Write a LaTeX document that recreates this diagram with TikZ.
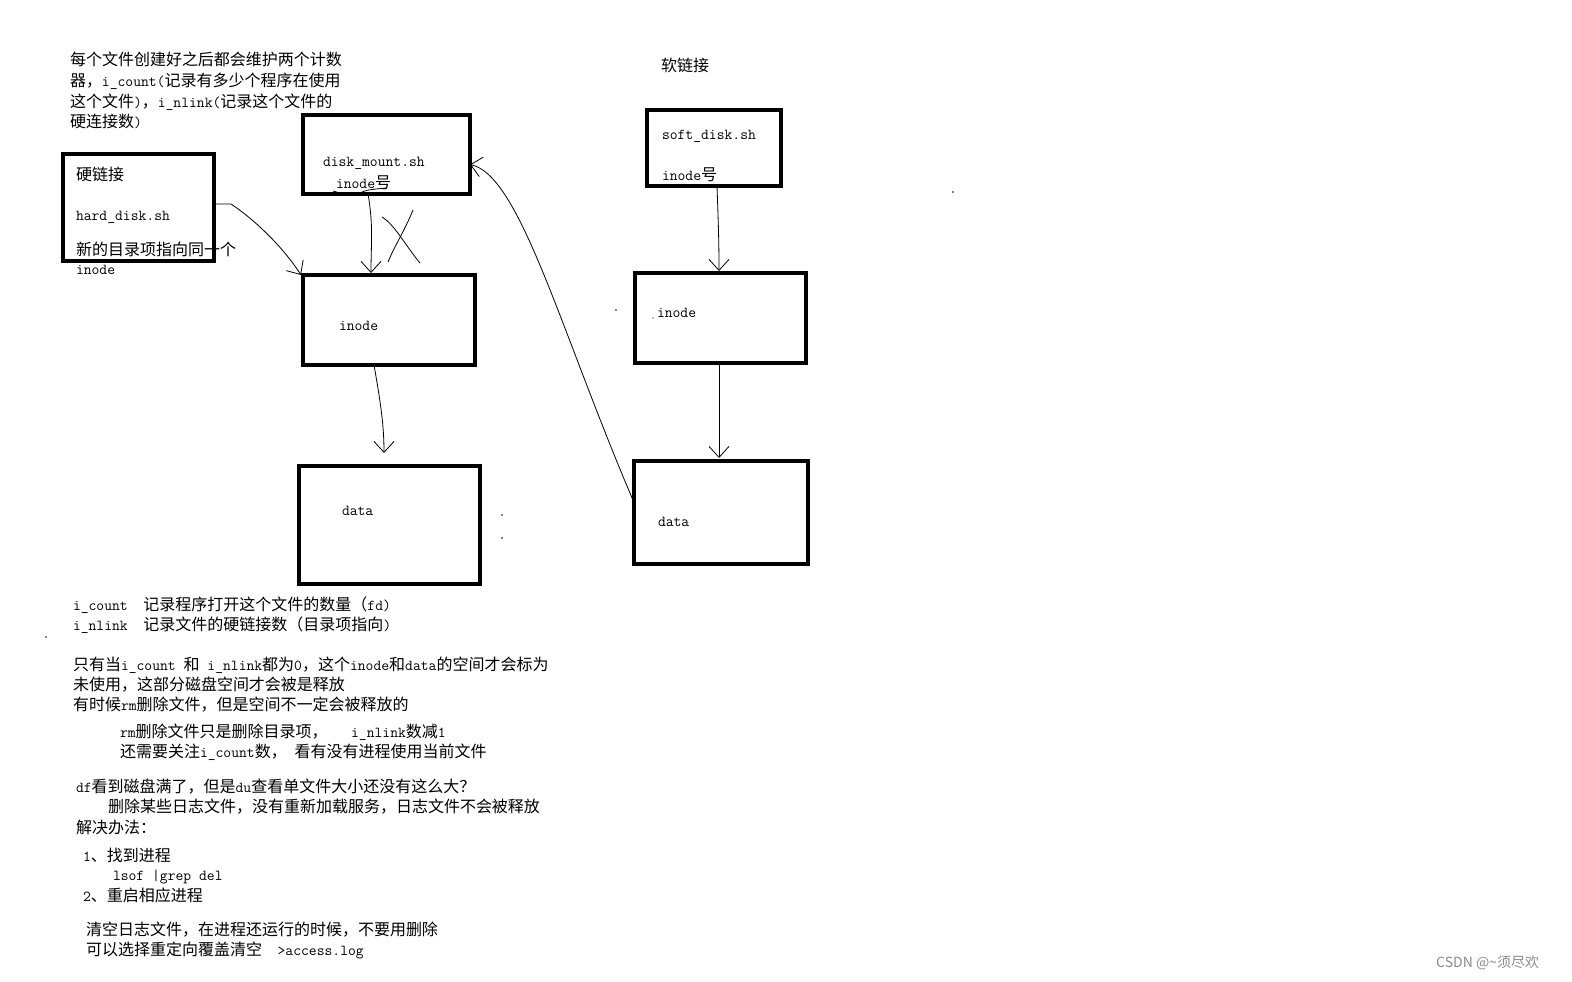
\documentclass[tikz,border=0pt]{standalone}
\usepackage{fontspec}
\setmainfont{Noto Sans CJK SC}
\newcommand{\mnx}[1]{{\ttfamily\fontsize{15.2}{20}\selectfont #1}}
\usetikzlibrary{arrows.meta}
\begin{document}
\begin{tikzpicture}[x=1pt,y=-1pt,
  boxn/.style={draw, line width=4pt, inner sep=0pt, outer sep=0pt},
  txt/.style={anchor=base west, inner sep=0pt, outer sep=0pt, font=\fontsize{16}{20}\selectfont},
  hand/.style={line width=0.8pt},
  harrow/.style={hand, -{Straight Barb[length=11pt,width=20pt]}},
  dotx/.style={fill=black}]
\path[use as bounding box, fill=white] (0,0) rectangle (1572,982);

% ---------- top-left note ----------
\node[txt] (n1) at (70,66) {每个文件创建好之后都会维护两个计数};
\node[txt] (n2) at (70,87) {器，\mnx{i\_count(}记录有多少个程序在使用};
\node[txt] (n3) at (70,107) {这个文件\mnx{)}，\mnx{i\_nlink(}记录这个文件的};
\node[txt] (n4) at (70,127) {硬连接数\mnx{)}};

% ---------- texts inside boxes ----------
\node[txt] (h1) at (76,180) {硬链接};
\node[txt] (h2) at (76,220) {\mnx{hard\_disk.sh}};
\node[txt] (h3) at (76,255) {新的目录项指向同一个};
\node[txt] (h4) at (76,274) {\mnx{inode}};

\node[txt] (d1) at (323,166) {\mnx{disk\_mount.sh}};
\node[txt] (d2) at (336,188) {\mnx{inode}号};
\node[txt] (i1) at (339,330) {\mnx{inode}};
\node[txt] (a1) at (342,515) {\mnx{data}};

\node[txt] (s0) at (661,72) {软链接};
\node[txt] (s1) at (662,139) {\mnx{soft\_disk.sh}};
\node[txt] (s2) at (662,180) {\mnx{inode}号};
\node[txt] (s3) at (657,317) {\mnx{inode}};
\node[txt] (s4) at (658,526) {\mnx{data}};

% ---------- boxes ----------
\node[boxn, minimum width=151pt, minimum height=107pt] (hard) at (138.5,207.5) {};
\node[boxn, minimum width=167pt, minimum height=79pt] (diskmount) at (386.5,154.5) {};
\node[boxn, minimum width=172pt, minimum height=90pt] (inodeL) at (389,320) {};
\node[boxn, minimum width=181pt, minimum height=118pt] (dataL) at (389.5,525) {};
\node[boxn, minimum width=134pt, minimum height=76pt] (soft) at (714,148) {};
\node[boxn, minimum width=171pt, minimum height=90pt] (inodeR) at (720.5,318) {};
\node[boxn, minimum width=174pt, minimum height=103pt] (dataR) at (721,512.5) {};

% ---------- connectors ----------
\draw[harrow] ([yshift=3.5pt]hard.east) -- ++(17,0)
  .. controls (258,222) and (285,250) .. ([xshift=-2pt]inodeL.north west);
\draw[harrow, shorten >=2pt] ([xshift=-18.5pt]diskmount.south)
  to[out=-80,in=90] ([xshift=-18pt]inodeL.north);
\draw[harrow, shorten >=13pt] ([xshift=-15pt]inodeL.south)
  to[out=-80,in=90] ([xshift=-5.5pt]dataL.north);
\draw[harrow] ([yshift=10pt]dataR.west)
  .. controls (560,330) and (520,175) .. ([yshift=-10pt]diskmount.east);
\draw[harrow, shorten >=2pt] ([xshift=3pt]soft.south)
  to[out=-88,in=90] ([xshift=-1.5pt]inodeR.north);
\draw[harrow, shorten >=3pt] ([xshift=-1.5pt]inodeR.south)
  -- ([xshift=-2pt]dataR.north);

% crossed-out stroke
\draw[hand] (382,217) .. controls (395,225) and (405,245) .. (420,263);
\draw[hand] (413,210) .. controls (405,230) and (395,245) .. (388,262);
\draw[hand] (333,191) -- (340,193);
\draw[hand] (358,194) .. controls (366,190) .. (386,188);

% stray dots
\fill[dotx] (953,192) circle (0.8pt);
\fill[dotx] (616,310) circle (0.8pt);
\fill[dotx] (653,318) circle (0.6pt);
\fill[dotx] (502,515) circle (0.8pt);
\fill[dotx] (502,538) circle (0.8pt);
\fill[dotx] (46,637) circle (0.8pt);

% ---------- bottom notes ----------
\node[txt] (b1) at (73,610) {\mnx{i\_count\ \ }记录程序打开这个文件的数量（\mnx{fd)}};
\node[txt] (b2) at (73,630) {\mnx{i\_nlink\ \ }记录文件的硬链接数（目录项指向\mnx{)}};
\node[txt] (b3) at (73,670) {只有当\mnx{i\_count\ }和\mnx{\ i\_nlink}都为\mnx{0}，这个\mnx{inode}和\mnx{data}的空间才会标为};
\node[txt] (b4) at (73,690) {未使用，这部分磁盘空间才会被是释放};
\node[txt] (b5) at (73,710) {有时候\mnx{rm}删除文件，但是空间不一定会被释放的};
\node[txt] (b6) at (120,737) {\mnx{rm}删除文件只是删除目录项，\mnx{\ \ \ i\_nlink}数减\mnx{1}};
\node[txt] (b7) at (120,757) {还需要关注\mnx{i\_count}数，\mnx{\ }看有没有进程使用当前文件};
\node[txt] (b8) at (76,792) {\mnx{df}看到磁盘满了，但是\mnx{du}查看单文件大小还没有这么大？};
\node[txt] (b9) at (108,812) {删除某些日志文件，没有重新加载服务，日志文件不会被释放};
\node[txt] (b10) at (76,833) {解决办法：};
\node[txt] (b11) at (83,861) {\mnx{1}、找到进程};
\node[txt] (b12) at (113,880) {\mnx{lsof |grep del}};
\node[txt] (b13) at (83,901) {\mnx{2}、重启相应进程};
\node[txt] (b14) at (86,935) {清空日志文件，在进程还运行的时候，不要用删除};
\node[txt] (b15) at (86,955) {可以选择重定向覆盖清空\mnx{\ \ >access.log}};

% watermark
\node[anchor=base west, inner sep=0pt, text=black!45, font=\fontsize{14}{16}\selectfont] (wm) at (1436,967) {CSDN @\textasciitilde 须尽欢};
\end{tikzpicture}
\end{document}
